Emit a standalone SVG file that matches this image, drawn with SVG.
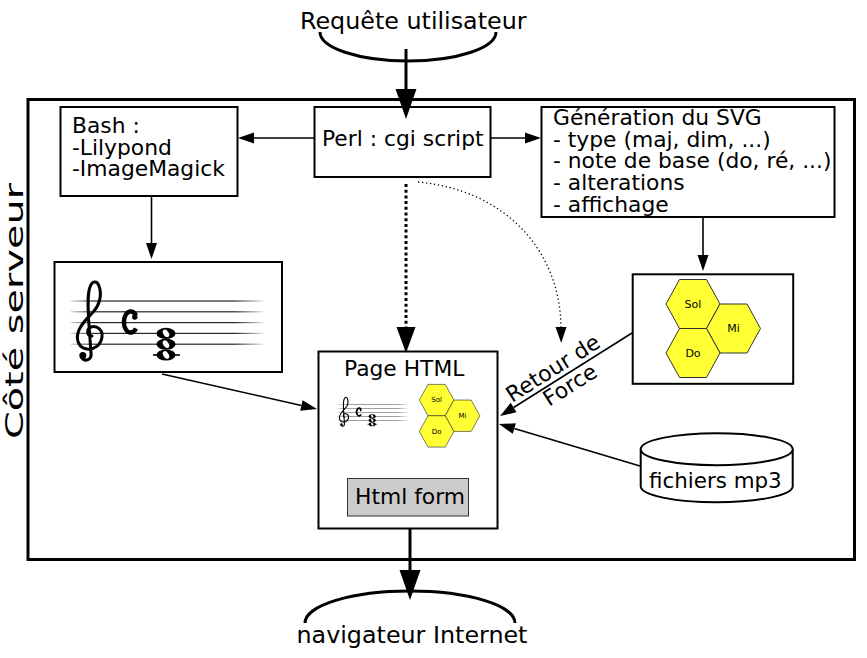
<svg xmlns="http://www.w3.org/2000/svg" xmlns:xlink="http://www.w3.org/1999/xlink" width="867" height="658" viewBox="0 0 867 658">
<style>
text{font-family:"DejaVu Sans","Liberation Sans",sans-serif;fill:#000}
.t22{font-size:21.8px}
.t24{font-size:23.8px}
.box{fill:#fff;stroke:#000;stroke-width:2}
.conn{fill:none;stroke:#000;stroke-width:1.6}
.thick{fill:none;stroke:#000;stroke-width:3}
.hex{fill:#ffff33;stroke:#333;stroke-width:1}
.hl{font-size:11px;text-anchor:middle}
</style>
<defs>
<marker id="ahBig" markerUnits="userSpaceOnUse" markerWidth="32" markerHeight="24" refX="0" refY="10.5" orient="auto" overflow="visible"><path d="M0,0 L30,10.5 L0,21 z" fill="#000"/></marker>
<marker id="ahDot" markerUnits="userSpaceOnUse" markerWidth="28" markerHeight="22" refX="0" refY="9.5" orient="auto" overflow="visible"><path d="M0,0 L26,9.5 L0,19 z" fill="#000"/></marker>
<marker id="ahSmall" markerUnits="userSpaceOnUse" markerWidth="18" markerHeight="14" refX="0" refY="5.5" orient="auto" overflow="visible"><path d="M0,0 L16,5.5 L0,11 z" fill="#000"/></marker>
<linearGradient id="fade" x1="0" y1="0" x2="1" y2="0">
<stop offset="0" stop-color="#000" stop-opacity="0.15"/>
<stop offset="0.12" stop-color="#000" stop-opacity="0.85"/>
<stop offset="0.85" stop-color="#000" stop-opacity="0.85"/>
<stop offset="1" stop-color="#000" stop-opacity="0.1"/>
</linearGradient>
<g id="staffArt">
<rect x="70.7" y="300.4" width="192.6" height="1.2" fill="url(#fade)"/>
<rect x="70.7" y="311.2" width="192.6" height="1.2" fill="url(#fade)"/>
<rect x="70.7" y="322" width="192.6" height="1.2" fill="url(#fade)"/>
<rect x="70.7" y="332.8" width="192.6" height="1.2" fill="url(#fade)"/>
<rect x="70.7" y="343.6" width="192.6" height="1.2" fill="url(#fade)"/>
<path d="M92,336 C87,336 86,329 91,327 C97,325 103,330 102,337 C101,345 94,350 87,349 C79,348 76,340 78,333 C80,324 88,318 94,311 C100,304 102,294 99,286 C97,280 92,281 90,287 C87,295 88,310 89,325 L91,353 C92,360 85,362 82,358" fill="none" stroke="#000" stroke-width="3" stroke-linecap="round"/>
<circle cx="82.8" cy="355.5" r="3.5" fill="#000"/>
<path d="M136,315.5 A6.8,10.5 0 1 0 136,328.5" fill="none" stroke="#000" stroke-width="4.4"/>
<circle cx="134.8" cy="317" r="2.7" fill="#000"/>
<line x1="153" y1="355" x2="180" y2="355" stroke="#000" stroke-width="1.6"/>
<ellipse cx="166" cy="333.4" rx="9.5" ry="5.6" fill="#000"/>
<ellipse cx="166" cy="344.2" rx="9.5" ry="5.6" fill="#000"/>
<ellipse cx="166" cy="355" rx="9.5" ry="5.6" fill="#000"/>
<ellipse cx="166" cy="333.4" rx="2.6" ry="4.2" fill="#fff" transform="rotate(-35 166 333.4)"/>
<ellipse cx="166" cy="344.2" rx="2.6" ry="4.2" fill="#fff" transform="rotate(-35 166 344.2)"/>
<ellipse cx="166" cy="355" rx="2.6" ry="4.2" fill="#fff" transform="rotate(-35 166 355)"/>
</g>
</defs>

<g id="server">
<rect x="28" y="99.5" width="826.5" height="460" fill="none" stroke="#000" stroke-width="3"/>
<text transform="translate(23,439) rotate(-90)" x="0" y="0" font-size="25.5" textLength="256" lengthAdjust="spacingAndGlyphs">Côté serveur</text>
</g>

<g id="requete">
<path d="M320,32 A88,29 0 0 0 496,32" class="thick" stroke-width="2.5"/>
<text class="t24" x="300" y="29">Requête utilisateur</text>
</g>

<g id="perl">
<rect x="314.5" y="107" width="176" height="70" class="box" stroke-width="1.6"/>
<text class="t22" x="322" y="145.5">Perl : cgi script</text>
</g>

<g id="bash">
<rect x="60.5" y="107" width="177" height="89" class="box"/>
<text class="t22"><tspan x="72" y="133">Bash :</tspan><tspan x="72" y="154.5">-Lilypond</tspan><tspan x="72" y="176">-ImageMagick</tspan></text>
</g>

<g id="svggen">
<rect x="541.5" y="107" width="293" height="110" class="box"/>
<text class="t22"><tspan x="553" y="125">Génération du SVG</tspan><tspan x="553" y="146.7">- type (maj, dim, ...)</tspan><tspan x="553" y="168.4">- note de base (do, ré, ...)</tspan><tspan x="553" y="190.1">- alterations</tspan><tspan x="553" y="211.8">- affichage</tspan></text>
</g>

<g id="staffimg">
<rect x="54.5" y="262" width="227.5" height="110" class="box" stroke="#222"/>
<use xlink:href="#staffArt"/>
</g>

<g id="hexbox">
<rect x="632.7" y="274.3" width="160.5" height="109.5" class="box" stroke="#333" stroke-width="1.6"/>
<polygon class="hex" points="666,304 679.5,279.5 706.5,279.5 720,304 706.5,328.5 679.5,328.5"/>
<polygon class="hex" points="706.5,328.5 720,304 747,304 760.5,328.5 747,353 720,353"/>
<polygon class="hex" points="666,353 679.5,328.5 706.5,328.5 720,353 706.5,377.5 679.5,377.5"/>
<text class="hl" x="693" y="307.5">Sol</text>
<text class="hl" x="733.5" y="332">Mi</text>
<text class="hl" x="693" y="356.5">Do</text>
</g>

<g id="page">
<rect x="318.5" y="351.5" width="179" height="177" class="box" stroke-width="3"/>
<text class="t22" x="344" y="375.5">Page HTML</text>
<use xlink:href="#staffArt" transform="translate(310.8,292.9) scale(0.37)"/>
<g transform="translate(-6.9,205.5) scale(0.64)">
<polygon class="hex" points="666,304 679.5,279.5 706.5,279.5 720,304 706.5,328.5 679.5,328.5"/>
<polygon class="hex" points="706.5,328.5 720,304 747,304 760.5,328.5 747,353 720,353"/>
<polygon class="hex" points="666,353 679.5,328.5 706.5,328.5 720,353 706.5,377.5 679.5,377.5"/>
<text class="hl" x="693" y="307.5">Sol</text>
<text class="hl" x="733.5" y="332">Mi</text>
<text class="hl" x="693" y="356.5">Do</text>
</g>
<rect x="347.5" y="478.5" width="121" height="37.5" fill="#ccc" stroke="#333" stroke-width="1"/>
<text class="t22" x="355" y="504.3">Html form</text>
</g>

<g id="mp3">
<path d="M640.7,449.2 L640.7,486.3 A76,16 0 0 0 792.7,486.3 L792.7,449.2" fill="#fff" stroke="#000" stroke-width="2"/>
<ellipse cx="716.7" cy="449.2" rx="76" ry="16" fill="#fff" stroke="#000" stroke-width="2"/>
<text x="649" y="488.3" font-size="21.4">fichiers mp3</text>
</g>

<g id="navigateur">
<path d="M305,623 A105,32 0 0 1 515,623" class="thick" stroke-width="2.5"/>
<text class="t24" x="296.5" y="643.3">navigateur Internet</text>
</g>

<g id="connectors">
<path d="M406,49 L406,89" class="thick" marker-end="url(#ahBig)"/>
<path d="M410,529 L410,570" class="thick" marker-end="url(#ahBig)"/>
<path d="M314,138 L254,138" class="conn" marker-end="url(#ahSmall)"/>
<path d="M490,138 L525,138" class="conn" marker-end="url(#ahSmall)"/>
<path d="M151.5,197 L151.5,243" class="conn" marker-end="url(#ahSmall)"/>
<path d="M703,218 L703,255" class="conn" marker-end="url(#ahSmall)"/>
<path d="M162,374 L301.4,405.5" class="conn" marker-end="url(#ahSmall)"/>
<path d="M632,333 L513.6,407.5" class="conn" marker-end="url(#ahSmall)"/>
<path d="M640,466 L514.3,428.6" class="conn" marker-end="url(#ahSmall)"/>
<path d="M406,184 L406,327" fill="none" stroke="#000" stroke-width="3" stroke-dasharray="3,2.7" marker-end="url(#ahDot)"/>
<path d="M418,182 C505,190 560,250 561,327" fill="none" stroke="#000" stroke-width="1.3" stroke-dasharray="1.3,2.7" marker-end="url(#ahSmall)"/>
<text class="t22" transform="translate(512,403) rotate(-32.3)">Retour de</text>
<text class="t22" transform="translate(549,407) rotate(-32.3)">Force</text>
</g>
</svg>
